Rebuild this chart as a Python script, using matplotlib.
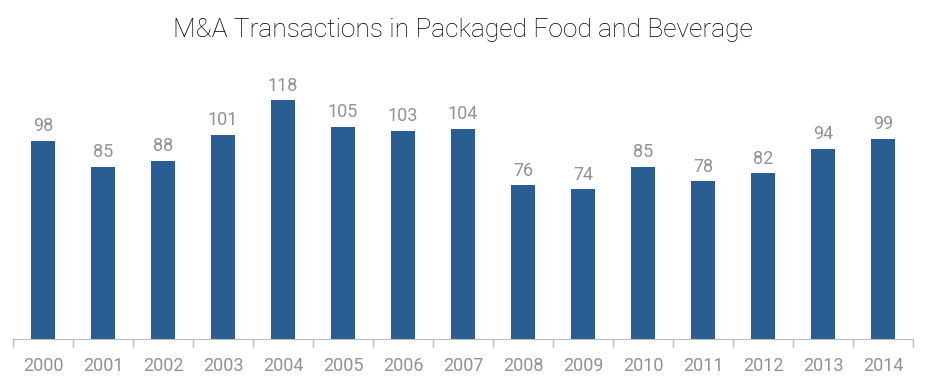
import matplotlib

matplotlib.use("Agg")
import matplotlib.pyplot as plt

years = ["2000", "2001", "2002", "2003", "2004", "2005", "2006", "2007",
         "2008", "2009", "2010", "2011", "2012", "2013", "2014"]
deals = [98, 85, 88, 101, 118, 105, 103, 104, 76, 74, 85, 78, 82, 94, 99]

plt.rcParams["font.family"] = ["Roboto", "DejaVu Sans"]

fig = plt.figure(figsize=(9.25, 3.81), dpi=100)
ax = fig.add_axes([0.014, 0.110, 0.973, 0.68])

x = list(range(len(years)))
ax.bar(x, deals, width=0.39, color="#2a5d92")
for xi, v in zip(x, deals):
    ax.annotate(str(v), (xi, v), xytext=(0, 4), textcoords="offset points",
                ha="center", va="bottom", fontsize=13, color="#929292")

ax.set_xlim(-0.5, len(years) - 0.5)
ax.set_ylim(0, 128)
ax.set_yticks([])
# boundary ticks between categories, year labels centred under the bars
ax.set_xticks([i - 0.5 for i in range(len(years) + 1)], minor=False)
ax.set_xticklabels([])
ax.set_xticks(x, minor=True)
ax.set_xticklabels(years, minor=True)
ax.tick_params(axis="x", which="major", length=6, color="#bbbbbb", width=1)
ax.tick_params(axis="x", which="minor", length=0, pad=13, labelsize=13,
               labelcolor="#929292")
for s in ["top", "right", "left"]:
    ax.spines[s].set_visible(False)
ax.spines["bottom"].set_color("#bbbbbb")

fig.text(0.5, 0.92, "M&A Transactions in Packaged Food and Beverage",
         ha="center", va="center", fontsize=19, color="#000000",
         fontweight="light")

fig.savefig("out.png", dpi=100)
